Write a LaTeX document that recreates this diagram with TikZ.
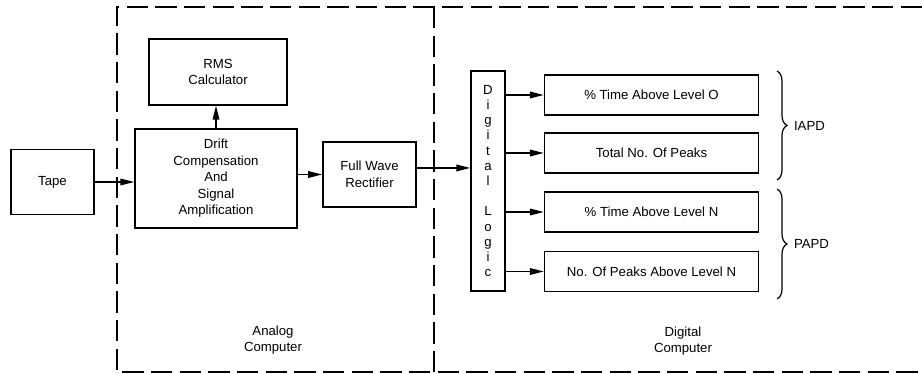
\documentclass[tikz,border=0pt]{standalone}
\usepackage{fontspec}
\setmainfont{Liberation Sans}
\usetikzlibrary{arrows.meta,decorations.pathreplacing}
\begin{document}
\begin{tikzpicture}[x=0.75pt,y=-0.75pt,line width=1.1pt,
        >={Triangle[length=10.5pt,width=5pt]},
        font=\fontsize{9.9}{12.4}\selectfont,
        block/.style={draw,align=center,inner sep=0pt},
        frame/.style={dash pattern=on 16pt off 5.5pt},
        curly/.style={decorate,decoration={brace,amplitude=7.5pt}}]
        \useasboundingbox (0,0) rectangle (922,374);
        % computer boundaries
        \draw[frame] (922,7) -- (117,7) -- (117,372) -- (922,372);
        \draw[frame] (434,7) -- (434,372);
        \node at (273,340) [align=center] {Analog\\Computer};
        \node at (683,341) [align=center] {Digital\\Computer};
        % analog part
        \node (tape) at (52.5,182) [block,minimum width=62pt,minimum height=49pt] {Tape};
        \node (rms) at (218,72) [block,minimum width=103.5pt,minimum height=49.5pt] {RMS\\Calculator};
        \node (drift) at (216,178.5) [block,minimum width=121.5pt,minimum height=74pt]
            {Drift\\Compensation\\And\\Signal\\Amplification};
        \node (fwr) at (369.5,174.5) [block,minimum width=70pt,minimum height=49pt] {Full Wave\\Rectifier};
        % digital part
        \node (logic) at (488,181) [block,minimum width=25.5pt,minimum height=165pt,
            font=\fontsize{9.9}{11.4}\selectfont]
            {D\\i\\g\\i\\t\\a\\l\\[11.4pt]L\\o\\g\\i\\c};
        \foreach \n/\y/\t in {1/95/{\% Time Above Level O},2/153/{Total No. Of Peaks},
                3/212/{\% Time Above Level N},4/271.5/{No. Of Peaks Above Level N}}
        {
            \node (out\n) at (651.5,\y) [block,minimum width=160.5pt,minimum height=30pt] {\t};
            \draw[->] (logic.east |- out\n.west) -- (out\n.west);
        }
        \draw[->] (tape.east) -- (tape.east -| drift.west);
        \draw[->] (drift.north) -- (drift.north |- rms.south);
        \draw[->] (drift.east |- fwr.east) -- (fwr.west);
        \draw[->] ([yshift=4.9pt]fwr.east) -- ([yshift=4.9pt]fwr.east -| logic.west);
        % groups
        \coordinate (iapdtop) at (777,71);
        \coordinate (iapdbot) at (777,180);
        \coordinate (papdtop) at (777,189);
        \coordinate (papdbot) at (777,299);
        \draw[curly,line width=0.9pt] (iapdtop) -- (iapdbot) node[midway,right=9pt] (iapd) {IAPD};
        \draw[curly,line width=0.9pt] (papdtop) -- (papdbot) node[midway,right=9pt] (papd) {PAPD};
\end{tikzpicture}
\end{document}
